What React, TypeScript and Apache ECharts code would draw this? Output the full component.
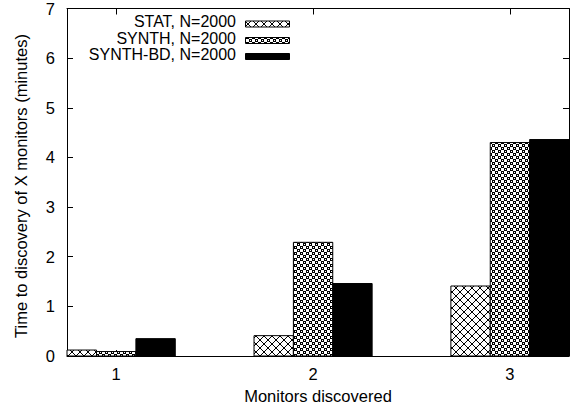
import React, { useEffect, useRef } from "react";
import * as echarts from "echarts";

// Monitors discovered (x positions of the bar groups)
const monitors = [1, 2, 3];
// Time to discovery in minutes, per method
const statMinutes = [0.12, 0.41, 1.41];
const synthMinutes = [0.09, 2.29, 4.3];
const synthBdMinutes = [0.35, 1.46, 4.36];

const seriesNames = ["STAT, N=2000", "SYNTH, N=2000", "SYNTH-BD, N=2000"];
const yTicks = [0, 1, 2, 3, 4, 5, 6, 7];

const FONT = "'Liberation Sans', Arial, Helvetica, sans-serif";
const FONT_SIZE = 16.5;
const BAR_W = 0.2;

// Builds a small canvas tile from a bitmap of 0/1 rows.
function bitmapTile(rows: string[]): HTMLCanvasElement {
  const h = rows.length;
  const w = rows[0].length;
  const c = document.createElement("canvas");
  c.width = w;
  c.height = h;
  const ctx = c.getContext("2d")!;
  ctx.fillStyle = "#fff";
  ctx.fillRect(0, 0, w, h);
  ctx.fillStyle = "#000";
  rows.forEach((row, y) => {
    for (let x = 0; x < w; x++) if (row[x] === "1") ctx.fillRect(x, y, 1, 1);
  });
  return c;
}

// Diagonal crosshatch, 8px period.
const crosshatch = [
  "10000001",
  "01000010",
  "00100100",
  "00011000",
  "00011000",
  "00100100",
  "01000010",
  "10000001",
];

// Dense pattern of small rings on a diagonal lattice.
const rings = [
  "111000",
  "101000",
  "111000",
  "000111",
  "000101",
  "000111",
];

function makeFills() {
  const a = bitmapTile(crosshatch);
  const b = bitmapTile(rings);
  return [
    { image: a, repeat: "repeat", imageWidth: a.width, imageHeight: a.height },
    { image: b, repeat: "repeat", imageWidth: b.width, imageHeight: b.height },
    "#000",
  ] as any[];
}

export default function App() {
  const ref = useRef<HTMLDivElement>(null);

  useEffect(() => {
    if (!ref.current) return;
    const chart = echarts.init(ref.current, undefined, { renderer: "svg" });
    const fills = makeFills();
    const offsets = [-BAR_W, 0, BAR_W];
    const valueSets = [statMinutes, synthMinutes, synthBdMinutes];

    const series = valueSets.map((vals, si) => ({
      type: "custom",
      name: seriesNames[si],
      xAxisIndex: 0,
      yAxisIndex: 0,
      data: monitors.map((m, i) => [m + offsets[si], vals[i]]),
      renderItem: (params: any, api: any) => {
        const x = api.value(0);
        const v = api.value(1);
        const p0 = api.coord([x - BAR_W / 2, v]);
        const p1 = api.coord([x + BAR_W / 2, 0]);
        const cs = params.coordSys;
        const r = echarts.graphic.clipRectByRect(
          { x: p0[0], y: p0[1], width: p1[0] - p0[0], height: p1[1] - p0[1] },
          { x: cs.x, y: cs.y, width: cs.width, height: cs.height }
        );
        if (!r) return null;
        return {
          type: "rect",
          shape: r,
          style: { fill: fills[si], stroke: "#000", lineWidth: 1 },
        };
      },
    }));

    const legendRows = [21.5, 38, 54];
    const legendGraphics: any[] = [];
    seriesNames.forEach((name, i) => {
      legendGraphics.push({
        type: "text",
        x: 236,
        y: legendRows[i],
        style: {
          text: name,
          font: `16px ${FONT}`,
          lineHeight: 14,
          fill: "#000",
          textAlign: "right",
          textVerticalAlign: "middle",
        },
      });
      legendGraphics.push({
        type: "rect",
        shape: { x: 245.5, y: legendRows[i] - 0.5, width: 44, height: 6 },
        style: { fill: fills[i], stroke: "#000", lineWidth: 1 },
      });
    });

    const tickStyle = { lineStyle: { color: "#000", width: 1 } };

    chart.setOption({
      animation: false,
      backgroundColor: "#fff",
      grid: { left: 67, right: 1, top: 8, bottom: 55, containLabel: false },
      xAxis: [
        {
          type: "value",
          position: "bottom",
          min: 0.75,
          max: 3.3,
          name: "Monitors discovered",
          nameLocation: "middle",
          nameGap: 31,
          nameTextStyle: { fontFamily: FONT, fontSize: FONT_SIZE, color: "#000" },
          axisLine: { show: true, onZero: false, lineStyle: { color: "#000" } },
          axisTick: { show: true, inside: true, length: 6, customValues: monitors, ...tickStyle },
          axisLabel: {
            customValues: monitors,
            margin: 9,
            fontFamily: FONT,
            fontSize: FONT_SIZE,
            color: "#000",
          },
          splitLine: { show: false },
        },
        {
          type: "value",
          position: "top",
          min: 0.75,
          max: 3.3,
          axisLine: { show: true, onZero: false, lineStyle: { color: "#000" } },
          axisTick: { show: true, inside: true, length: 6, customValues: monitors, ...tickStyle },
          axisLabel: { show: false },
          splitLine: { show: false },
        },
      ],
      yAxis: [
        {
          type: "value",
          position: "left",
          min: 0,
          max: 7,
          interval: 1,
          axisLine: { show: true, onZero: false, lineStyle: { color: "#000" } },
          axisTick: { show: true, inside: true, length: 6, ...tickStyle },
          axisLabel: {
            margin: 12,
            fontFamily: FONT,
            fontSize: FONT_SIZE,
            color: "#000",
            formatter: (v: number) => (yTicks.includes(v) ? String(v) : ""),
          },
          splitLine: { show: false },
        },
        {
          type: "value",
          position: "right",
          min: 0,
          max: 7,
          interval: 1,
          axisLine: { show: true, onZero: false, lineStyle: { color: "#000" } },
          axisTick: { show: true, inside: true, length: 6, ...tickStyle },
          axisLabel: { show: false },
          splitLine: { show: false },
        },
      ],
      graphic: [
        {
          type: "text",
          x: 21,
          y: 186,
          rotation: Math.PI / 2,
          style: {
            text: "Time to discovery of X monitors (minutes)",
            font: `${FONT_SIZE}px ${FONT}`,
            fill: "#000",
            textAlign: "center",
            textVerticalAlign: "middle",
          },
        },
        ...legendGraphics,
      ],
      series,
    });

    return () => chart.dispose();
  }, []);

  return (
    <div
      ref={ref}
      style={{ position: "absolute", left: 0, top: 0, width: 570, height: 411 }}
    />
  );
}
